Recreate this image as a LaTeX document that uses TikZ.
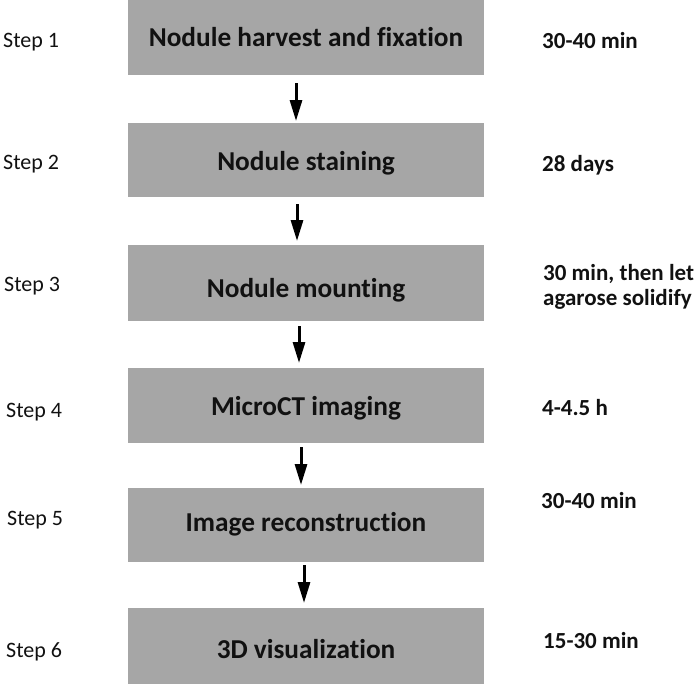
\documentclass[tikz,border=0pt]{standalone}
\usepackage{fontspec}
\setmainfont{Carlito}[Ligatures=NoCommon]
\usetikzlibrary{arrows.meta}
\definecolor{boxgray}{HTML}{A6A6A6}
\definecolor{ink}{HTML}{111111}
\tikzset{
  stepbox/.style={fill=boxgray, draw=none, inner sep=0pt, minimum width=356pt,
    anchor=north, text=ink, font=\fontsize{27.3}{30}\selectfont\bfseries,
    text height=17pt, text depth=0pt},
  steplabel/.style={anchor=base west, inner sep=0pt, text=ink,
    font=\fontsize{22}{24}\selectfont},
  timelabel/.style={anchor=base west, inner sep=0pt, text=ink,
    font=\fontsize{23}{25}\selectfont\bfseries},
  flowarrow/.style={draw=black, line width=3pt,
    -{Triangle[width=12pt,length=21pt]}}
}
\begin{document}
\begin{tikzpicture}[x=1pt,y=-1pt]
\useasboundingbox (0,0) rectangle (700,686);
% boxes
\node[stepbox, minimum height=75pt] (b1) at (306,0) {Nodule harvest and fixation};
\node[stepbox, minimum height=74pt] (b2) at (306,123) {\raisebox{-2pt}{Nodule staining}};
\node[stepbox, minimum height=76pt] (b3) at (306,245) {\raisebox{-6pt}{Nodule mounting}};
\node[stepbox, minimum height=75pt] (b4) at (306,368) {\raisebox{-1pt}{MicroCT imaging}};
\node[stepbox, minimum height=74pt] (b5) at (306,488) {\raisebox{2pt}{Image reconstruction}};
\node[stepbox, minimum height=76pt] (b6) at (306,608) {\raisebox{-4pt}{3D visualization}};
% step labels
\node[steplabel] (s1) at (3,47) {Step 1};
\node[steplabel] (s2) at (3,169) {Step 2};
\node[steplabel] (s3) at (4,291) {Step 3};
\node[steplabel] (s4) at (6,417) {Step 4};
\node[steplabel] (s5) at (7,525) {Step 5};
\node[steplabel] (s6) at (6,657) {Step 6};
% time labels
\node[timelabel] (t1) at (542,48) {30-40 min};
\node[timelabel] (t2) at (542,171) {28 days};
\node[timelabel] (t3a) at (543,280) {30 min, then let};
\node[timelabel] (t3b) at (543,305) {agarose solidify};
\node[timelabel] (t4) at (542,415) {4-4.5 h};
\node[timelabel] (t5) at (541,508) {30-40 min};
\node[timelabel] (t6) at (543,648) {15-30 min};
% arrows
\draw[flowarrow] ([xshift=-10pt,yshift=-8pt]b1.south) -- ([xshift=-10pt,yshift=2pt]b2.north);
\draw[flowarrow] ([xshift=-9pt,yshift=-7pt]b2.south) -- ([xshift=-9pt,yshift=4pt]b3.north);
\draw[flowarrow] ([xshift=-7pt,yshift=-5pt]b3.south) -- ([xshift=-7pt,yshift=5pt]b4.north);
\draw[flowarrow] ([xshift=-5pt,yshift=-4pt]b4.south) -- ([xshift=-5pt,yshift=3pt]b5.north);
\draw[flowarrow] ([xshift=-2pt,yshift=-3pt]b5.south) -- ([xshift=-2pt,yshift=5pt]b6.north);
\end{tikzpicture}
\end{document}
